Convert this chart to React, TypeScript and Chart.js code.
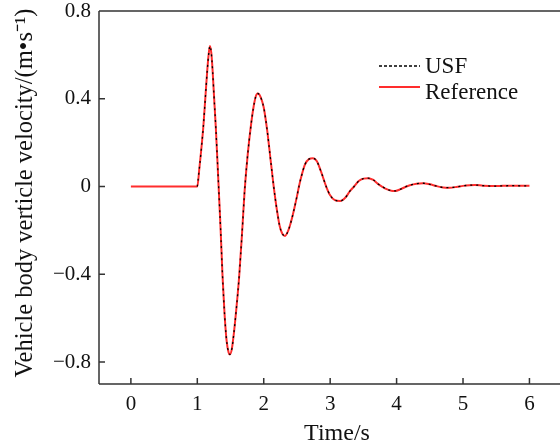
import React, { useEffect, useRef } from "react";
import { Chart, registerables } from "chart.js";

Chart.register(...registerables);

// Time (s)
const timeS: number[] = [
  0, 0.5, 1.0, 1.03, 1.06, 1.09, 1.12, 1.15, 1.17, 1.19, 1.21, 1.23, 1.25, 1.28, 1.31, 1.33, 1.35,
  1.38, 1.41, 1.44, 1.47, 1.49, 1.52, 1.55, 1.59, 1.63, 1.67, 1.69, 1.71, 1.73, 1.76, 1.8, 1.84,
  1.88, 1.91, 1.95, 2.0, 2.05, 2.1, 2.15, 2.2, 2.24, 2.28, 2.32, 2.37, 2.42, 2.46, 2.5, 2.53, 2.57,
  2.62, 2.68, 2.74, 2.8, 2.86, 2.94, 3.0, 3.07, 3.15, 3.23, 3.3, 3.36, 3.43, 3.5, 3.57, 3.65, 3.72,
  3.78, 3.85, 3.92, 3.98, 4.06, 4.13, 4.2, 4.3, 4.4, 4.5, 4.6, 4.7, 4.8, 4.9, 5.0, 5.1, 5.18, 5.3,
  5.45, 5.6, 5.75, 5.9, 6.0,
];

// Reference vertical velocity (m/s)
const referenceVel: number[] = [
  0, 0, 0, 0.08, 0.17, 0.27, 0.4, 0.53, 0.6, 0.641, 0.61, 0.53, 0.42, 0.26, 0.07, -0.06, -0.19,
  -0.41, -0.58, -0.7, -0.755, -0.765, -0.74, -0.67, -0.55, -0.41, -0.23, -0.13, -0.03, 0.05, 0.15,
  0.26, 0.35, 0.41, 0.424, 0.41, 0.36, 0.26, 0.13, 0, -0.11, -0.18, -0.215, -0.225, -0.2, -0.15,
  -0.1, -0.045, 0, 0.05, 0.1, 0.125, 0.129, 0.115, 0.07, 0, -0.04, -0.062, -0.066, -0.05, -0.02, 0,
  0.025, 0.036, 0.038, 0.03, 0.012, 0, -0.012, -0.019, -0.02, -0.012, -0.002, 0.006, 0.013, 0.015,
  0.01, 0.002, -0.004, -0.005, -0.002, 0.003, 0.006, 0.007, 0.004, 0.002, 0.003, 0.004, 0.003,
  0.003,
];

// USF vertical velocity (m/s) — overlaps the reference, starts at t = 1 s
const usfStartTime = 1.0;
const usfVel: number[] = referenceVel.slice();

const xTickMin = -0.48;
const xTickMax = 6.46;
const yMin = -0.9;
const yMax = 0.8;

const seriesLabels = ["USF", "Reference"];
const xTitle = "Time/s";
const yTitle = "Vehicle body verticle velocity/(m\u2022s\u207B\u00B9)";

const FONT = '"Liberation Serif", "Times New Roman", serif';

const fmt = (v: number) => {
  const r = Math.round(v * 10) / 10;
  if (Math.abs(r) < 1e-9) return "0";
  const s = Number.isInteger(r) ? String(Math.abs(r)) : Math.abs(r).toFixed(1);
  return (r < 0 ? "\u2212" : "") + s;
};

const framePlugin = {
  id: "framePlugin",
  afterDraw(chart: any) {
    const { ctx, chartArea, scales } = chart;
    const { left, right, top, bottom } = chartArea;
    const x = scales.x;
    const y = scales.y;
    ctx.save();
    ctx.strokeStyle = "#333";
    ctx.lineWidth = 1.5;
    ctx.beginPath();
    ctx.moveTo(left, top);
    ctx.lineTo(right, top);
    ctx.moveTo(left, top);
    ctx.lineTo(left, bottom);
    ctx.moveTo(left, bottom);
    ctx.lineTo(right, bottom);
    x.ticks.forEach((t: any) => {
      const px = x.getPixelForValue(t.value);
      ctx.moveTo(px, bottom);
      ctx.lineTo(px, bottom - 6);
    });
    y.ticks.forEach((t: any) => {
      const py = y.getPixelForValue(t.value);
      ctx.moveTo(left, py);
      ctx.lineTo(left + 6, py);
    });
    ctx.stroke();

    // axis titles
    ctx.fillStyle = "#111";
    ctx.textAlign = "center";
    ctx.textBaseline = "alphabetic";
    ctx.font = `24px ${FONT}`;
    ctx.fillText(xTitle, 337, 440);
    ctx.save();
    ctx.translate(32, 193);
    ctx.rotate(-Math.PI / 2);
    ctx.font = `24.5px ${FONT}`;
    ctx.fillText(yTitle, 0, 0);
    ctx.restore();

    // legend
    const items = chart.data.datasets;
    const lx0 = 379;
    const lx1 = 420;
    const lineYs = [66, 87];
    const textYs = [73, 99];
    ctx.font = `23px ${FONT}`;
    ctx.textBaseline = "alphabetic";
    ctx.textAlign = "left";
    items.forEach((ds: any, i: number) => {
      ctx.beginPath();
      ctx.strokeStyle = ds.borderColor;
      ctx.lineWidth = i === 0 ? 1.6 : ds.borderWidth;
      ctx.setLineDash(i === 0 ? [3, 2] : []);
      ctx.moveTo(lx0, lineYs[i]);
      ctx.lineTo(lx1, lineYs[i]);
      ctx.stroke();
      ctx.setLineDash([]);
      ctx.fillStyle = "#111";
      ctx.fillText(ds.label, 425, textYs[i]);
    });
    ctx.restore();
  },
};

export default function App() {
  const canvasRef = useRef<HTMLCanvasElement | null>(null);

  useEffect(() => {
    if (!canvasRef.current) return;
    const refPts = timeS.map((t, i) => ({ x: t, y: referenceVel[i] }));
    const usfPts = timeS
      .map((t, i) => ({ x: t, y: usfVel[i] }))
      .filter((p) => p.x >= usfStartTime);

    const chart = new Chart(canvasRef.current, {
      type: "line",
      data: {
        datasets: [
          {
            label: seriesLabels[0],
            data: usfPts,
            borderColor: "#000",
            borderWidth: 1.3,
            borderDash: [2, 4],
            pointRadius: 0,
            cubicInterpolationMode: "monotone",
            fill: false,
          },
          {
            label: seriesLabels[1],
            data: refPts,
            borderColor: "#ff2d2d",
            borderWidth: 2,
            pointRadius: 0,
            cubicInterpolationMode: "monotone",
            fill: false,
          },
        ],
      },
      options: {
        animation: false,
        responsive: false,
        devicePixelRatio: 1,
        layout: { padding: { top: 11, left: 0, right: 0, bottom: 0 } },
        plugins: { legend: { display: false }, tooltip: { enabled: false } },
        scales: {
          x: {
            type: "linear",
            min: xTickMin,
            max: xTickMax,
            grid: { display: false, drawTicks: false },
            border: { display: false },
            ticks: {
              stepSize: 1,
              includeBounds: false,
              padding: 8,
              color: "#111",
              font: { family: FONT, size: 21 },
              maxRotation: 0,
              callback: (v: any) => fmt(Number(v)),
            },
            afterFit: (s: any) => {
              s.height = 61;
              s.paddingLeft = 0;
              s.paddingRight = 0;
            },
          },
          y: {
            type: "linear",
            min: yMin,
            max: yMax,
            grid: { display: false, drawTicks: false },
            border: { display: false },
            ticks: {
              stepSize: 0.4,
              includeBounds: false,
              padding: 8,
              color: "#111",
              font: { family: FONT, size: 21 },
              callback: (v: any) => fmt(Number(v)),
            },
            afterFit: (s: any) => {
              s.width = 99;
              s.paddingTop = 0;
              s.paddingBottom = 0;
            },
          },
        },
      },
      plugins: [framePlugin],
    });
    return () => chart.destroy();
  }, []);

  return (
    <div style={{ position: "absolute", left: 0, top: 0, width: 560, height: 445, background: "#fff" }}>
      <canvas ref={canvasRef} width={560} height={445} style={{ display: "block" }} />
    </div>
  );
}
